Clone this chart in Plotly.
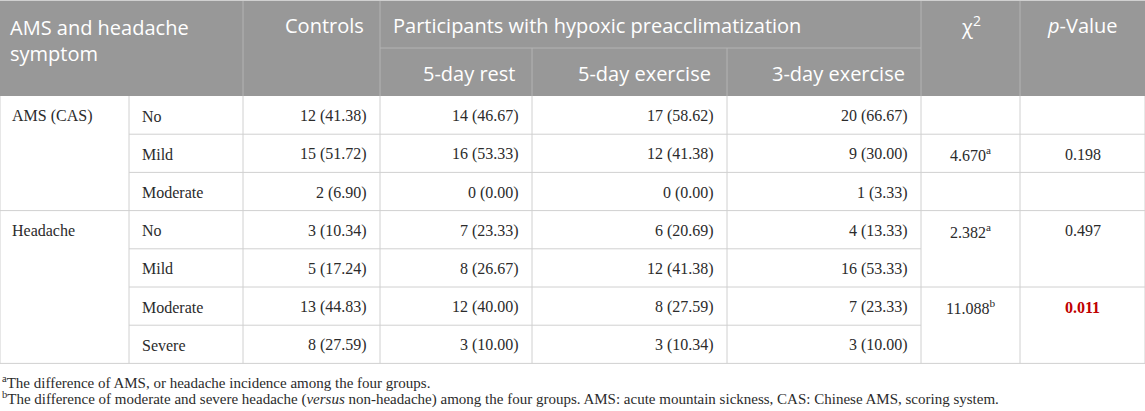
import plotly.graph_objects as go

# table content
groups = ["AMS (CAS)", "Headache"]
group_levels = [["No", "Mild", "Moderate"], ["No", "Mild", "Moderate", "Severe"]]

col_headers = ["Controls", "5-day rest", "5-day exercise", "3-day exercise"]
super_header = "Participants with hypoxic preacclimatization"

controls_n = [12, 15, 2, 3, 5, 13, 8]
controls_pct = [41.38, 51.72, 6.90, 10.34, 17.24, 44.83, 27.59]
rest5_n = [14, 16, 0, 7, 8, 12, 3]
rest5_pct = [46.67, 53.33, 0.00, 23.33, 26.67, 40.00, 10.00]
ex5_n = [17, 12, 0, 6, 12, 8, 3]
ex5_pct = [58.62, 41.38, 0.00, 20.69, 41.38, 27.59, 10.34]
ex3_n = [20, 9, 1, 4, 16, 7, 3]
ex3_pct = [66.67, 30.00, 3.33, 13.33, 53.33, 23.33, 10.00]

chi2_values = [4.670, 2.382, 11.088]
chi2_notes = ["a", "a", "b"]
p_values = [0.198, 0.497, 0.011]
chi2_rows = [1, 3, 5]          # body row where each test result sits
chi2_spans = [1, 2, 2]         # rows covered by each result cell
significant = [False, False, True]

footnotes = [
    "<sup>a</sup>The difference of AMS, or headache incidence among the four groups.",
    "<sup>b</sup>The difference of moderate and severe headache (<i>versus</i> non-headache) among the four groups. "
    "AMS: acute mountain sickness, CAS: Chinese AMS, scoring system.",
]

# layout of the grid (pixels)
W, H = 1145, 411
col_edges = [0, 129, 243, 380, 532, 727, 921, 1020, 1145]
head_top, head_mid, head_bot = 1, 48, 96
row_h = 38.2
n_rows = sum(len(l) for l in group_levels)
body_bot = head_bot + row_h * n_rows

HEAD_BG = "#989898"
HEAD_LINE = "#b3b3b3"
GRID = "#d0d0d0"
TXT = "#2b2b2b"
SANS = "Open Sans"
SERIF = "Liberation Serif"

fig = go.Figure()
shapes = []
ann = []


def line(x0, y0, x1, y1, color=GRID):
    shapes.append(dict(type="line", xref="x", yref="y", x0=x0, y0=y0, x1=x1, y1=y1,
                       line=dict(color=color, width=1)))


def text(x, y, s, anchor="left", size=15, family=SERIF, color=TXT, yanchor="middle"):
    ann.append(dict(x=x, y=y, xref="x", yref="y", text=s, showarrow=False,
                    xanchor=anchor, yanchor=yanchor, align=anchor,
                    font=dict(family=family, size=size, color=color)))


# header background
shapes.append(dict(type="rect", xref="x", yref="y", x0=0, x1=W, y0=head_top, y1=head_bot,
                   fillcolor=HEAD_BG, line=dict(width=0), layer="below"))
line(0, 0.5, W, 0.5, GRID)
for x in [col_edges[2], col_edges[3], col_edges[6], col_edges[7]]:
    line(x, head_top, x, head_bot, HEAD_LINE)
for x in [col_edges[4], col_edges[5]]:
    line(x, head_mid, x, head_bot, HEAD_LINE)
line(col_edges[3], head_mid, col_edges[6], head_mid, HEAD_LINE)

hy1 = (head_top + head_mid) / 2 + 1
hy2 = (head_mid + head_bot) / 2 + 1
text(8, hy1 - 14, "AMS and headache<br>symptom", "left", 20, SANS, "white", "top")
text(col_edges[3] - 14, hy1, col_headers[0], "right", 20, SANS, "white")
text(col_edges[3] + 11, hy1, super_header, "left", 20, SANS, "white")
for j, h in enumerate(col_headers[1:]):
    text(col_edges[4 + j] - 14, hy2, h, "right", 20, SANS, "white")
text((col_edges[6] + col_edges[7]) / 2, hy1, "χ<sup>2</sup>", "center", 20, SANS, "white")
text((col_edges[7] + col_edges[8]) / 2, hy1, "<i>p</i>-Value", "center", 20, SANS, "white")

# body grid
for x in col_edges:
    line(x, head_bot, x, body_bot)
line(0, body_bot, W, body_bot)

merged_inside = set()
for r0, span in zip(chi2_rows, chi2_spans):
    for k in range(span - 1):
        merged_inside.add(r0 + k)

row = 0
for g, levels in zip(groups, group_levels):
    text(col_edges[0] + 10, head_bot + row_h * (row + 0.5) + 1, g, size=16)
    for i, lvl in enumerate(levels):
        r = row + i
        yc = head_bot + row_h * (r + 0.5) + 1
        text(col_edges[1] + 11, yc, lvl, size=16)
        for j, (n, p) in enumerate([(controls_n[r], controls_pct[r]), (rest5_n[r], rest5_pct[r]),
                                    (ex5_n[r], ex5_pct[r]), (ex3_n[r], ex3_pct[r])]):
            text(col_edges[3 + j] - 11, yc, f"{n} ({p:.2f})", "right", 16)
        if i < len(levels) - 1:
            yb = head_bot + row_h * (r + 1)
            x_end = col_edges[6] if r in merged_inside else W
            line(col_edges[1], yb, x_end, yb)
    row += len(levels)
    if row < n_rows:
        line(0, head_bot + row_h * row, W, head_bot + row_h * row)

for r, c, note, p, sig in zip(chi2_rows, chi2_values, chi2_notes, p_values, significant):
    yc = head_bot + row_h * (r + 0.5) + 1
    text((col_edges[6] + col_edges[7]) / 2, yc, f"{c:.3f}<sup>{note}</sup>", "center", 16)
    ptxt = f"<b>{p:.3f}</b>" if sig else f"{p:.3f}"
    text((col_edges[7] + col_edges[8]) / 2, yc, ptxt, "center", 16, color="#c00000" if sig else TXT)

# footnotes
for k, fn in enumerate(footnotes):
    text(0, body_bot + 19 + 16 * k, fn, "left", 15)

fig.update_layout(
    width=W, height=H,
    margin=dict(l=0, r=0, t=0, b=0),
    paper_bgcolor="white", plot_bgcolor="white",
    shapes=shapes, annotations=ann,
    xaxis=dict(range=[0, W], visible=False, fixedrange=True),
    yaxis=dict(range=[H, 0], visible=False, fixedrange=True),
    showlegend=False,
)
fig.write_html("out.html", config={"displayModeBar": False},
               post_script="document.body.style.margin='0';document.body.style.overflow='hidden';")
